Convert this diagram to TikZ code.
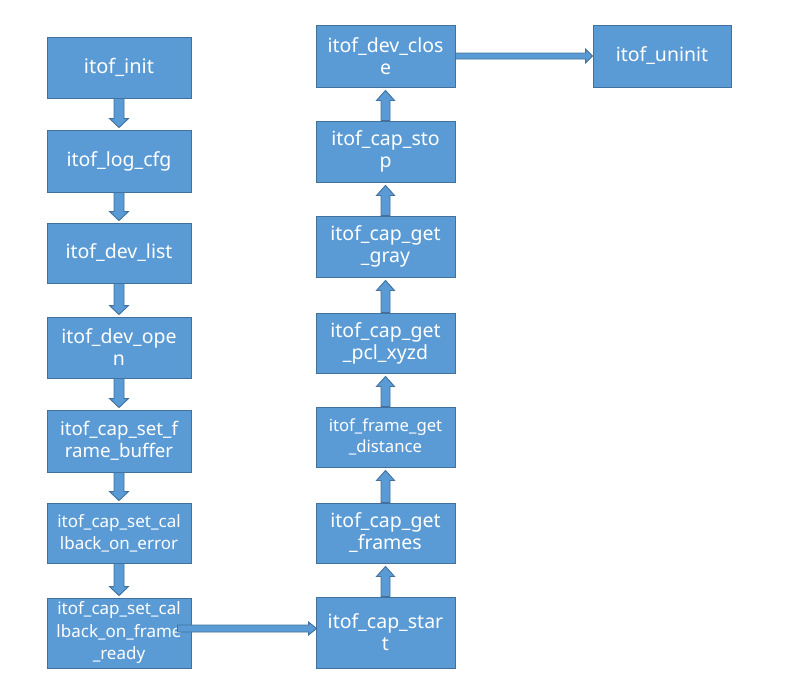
\documentclass[tikz,border=0pt]{standalone}
\usepackage{fontspec}
\setmainfont{Noto Sans}
\usetikzlibrary{calc}
\definecolor{boxfill}{HTML}{5B9BD5}
\definecolor{boxline}{HTML}{41719C}
\newcommand{\fs}[2]{\fontsize{#1}{#2}\selectfont}
\tikzset{
  box/.style={draw=boxline, fill=boxfill, line width=0.9pt, text=white,
    align=center, inner sep=0pt, anchor=center, font=\fs{19.5}{22}},
  lbox/.style={box, minimum width=144pt},
  rbox/.style={box, minimum width=139pt},
  blockarrow/.style={fill=boxfill, draw=boxline, line width=0.9pt, line join=miter},
}
% vertical block arrow from the bottom of #1 down to the top of #2
\newcommand{\downarrowblk}[2]{%
  \draw[blockarrow] ($(#1.south)+(-5,0)$) -- ($(#2.north)+(-5,-11)$) -- ($(#2.north)+(-9.5,-11)$)
    -- ($(#2.north)+(0,-2)$) -- ($(#2.north)+(9.5,-11)$) -- ($(#2.north)+(5,-11)$)
    -- ($(#1.south)+(5,0)$) -- cycle;}
% vertical block arrow from the top of #1 up to the bottom of #2
\newcommand{\uparrowblk}[2]{%
  \draw[blockarrow] ($(#1.north)+(-4.5,0)$) -- ($(#2.south)+(-4.5,13)$) -- ($(#2.south)+(-9,13)$)
    -- ($(#2.south)+(0,3)$) -- ($(#2.south)+(9,13)$) -- ($(#2.south)+(4.5,13)$)
    -- ($(#1.north)+(4.5,0)$) -- cycle;}
\begin{document}
\begin{tikzpicture}[x=1pt, y=-1pt]
\useasboundingbox (0,0) rectangle (788,696);

% left column
\node[lbox, minimum height=61pt, font=\fs{20}{24}] (init) at (119,67.5) {itof\_init};
\node[lbox, minimum height=62pt] (logcfg) at (119,161) {itof\_log\_cfg};
\node[lbox, minimum height=60pt] (devlist) at (119,253) {itof\_dev\_list};
\node[lbox, minimum height=61pt] (devopen) at (119,347.5) {itof\_dev\_ope\\n};
\node[lbox, minimum height=62pt, font=\fs{18.7}{22}] (fbuf) at (119,441) {itof\_cap\_set\_f\\rame\_buffer};
\node[lbox, minimum height=60pt, font=\fs{17}{22}] (onerr) at (119,533) {itof\_cap\_set\_cal\\lback\_on\_error};
\node[lbox, minimum height=70pt, font=\fs{17}{22.5}] (ready) at (119,633) {itof\_cap\_set\_cal\\lback\_on\_frame\\\_ready};

% right column
\node[rbox, minimum height=62pt] (close) at (385.5,56) {itof\_dev\_clos\\e};
\node[rbox, minimum height=61pt] (stop) at (385.5,151.5) {itof\_cap\_sto\\p};
\node[rbox, minimum height=61pt] (gray) at (385.5,246.5) {itof\_cap\_get\\\_gray};
\node[rbox, minimum height=60pt] (pcl) at (385.5,343) {itof\_cap\_get\\\_pcl\_xyzd};
\node[rbox, minimum height=60pt, font=\fs{16.7}{21}] (dist) at (385.5,437) {itof\_frame\_get\\\_distance};
\node[rbox, minimum height=60pt] (frames) at (385.5,533) {itof\_cap\_get\\\_frames};
\node[rbox, minimum height=71pt] (start) at (385.5,632.5) {itof\_cap\_star\\t};

\node[box, minimum width=138pt, minimum height=62pt] (uninit) at (662,56) {itof\_uninit};

% downward flow on the left
\downarrowblk{init}{logcfg}
\downarrowblk{logcfg}{devlist}
\downarrowblk{devlist}{devopen}
\downarrowblk{devopen}{fbuf}
\downarrowblk{fbuf}{onerr}
\downarrowblk{onerr}{ready}

% upward flow on the right
\uparrowblk{start}{frames}
\uparrowblk{frames}{dist}
\uparrowblk{dist}{pcl}
\uparrowblk{pcl}{gray}
\uparrowblk{gray}{stop}
\uparrowblk{stop}{close}

% horizontal links
\coordinate (rdyout) at ($(ready.east)+(-14,-4.5)$);
\draw[blockarrow] ($(rdyout)+(0,-3.5)$) -- ($(start.west|-rdyout)+(-7,-3.5)$)
  -- ($(start.west|-rdyout)+(-7,-6.5)$) -- ($(start.west|-rdyout)+(1,0)$)
  -- ($(start.west|-rdyout)+(-7,6.5)$) -- ($(start.west|-rdyout)+(-7,3.5)$)
  -- ($(rdyout)+(0,3.5)$) -- cycle;
\draw[blockarrow] ($(close.east)+(0,-3)$) -- ($(uninit.west)+(-7,-3)$)
  -- ($(uninit.west)+(-7,-7)$) -- (uninit.west)
  -- ($(uninit.west)+(-7,7)$) -- ($(uninit.west)+(-7,3)$)
  -- ($(close.east)+(0,3)$) -- cycle;
\end{tikzpicture}
\end{document}
